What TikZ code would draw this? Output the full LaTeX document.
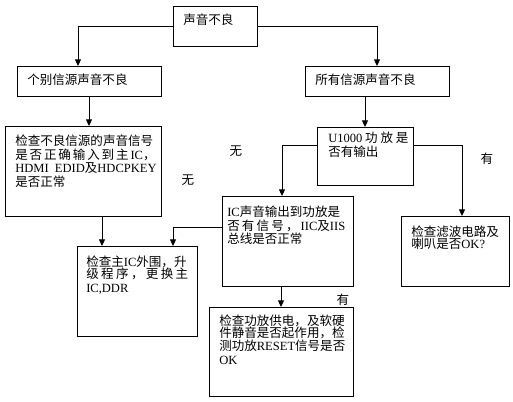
\documentclass[tikz,border=0pt]{standalone}
\usepackage{fontspec}
\setmainfont{Liberation Serif}
\newfontfamily\cjk{Noto Sans CJK SC}
\usetikzlibrary{arrows.meta,calc}
\newcommand\en[1]{{\rmfamily #1}}
\newcommand\spreadline[2]{\makebox[#1][s]{#2}}
\tikzset{
  box/.style={draw, line width=0.75pt, anchor=north west, inner sep=0pt, outer sep=0pt},
  txt/.style={anchor=north west, inner sep=0pt, align=left, font=\fontsize{9.4pt}{10.2pt}\selectfont\cjk},
  lbl/.style={inner sep=0pt, font=\fontsize{9.4pt}{10.2pt}\selectfont\cjk},
  arr/.style={line width=0.75pt, -{Triangle[length=5pt,width=4.5pt]}}
}
\begin{document}
\begin{tikzpicture}[x=0.75pt,y=0.75pt,yscale=-1,xscale=1]
\useasboundingbox (0,0) rectangle (513,401);

%Shape: Rectangle [top]
\node[box, minimum width=63pt, minimum height=30pt] (top) at (173,6) {};
%Shape: Rectangle [single source]
\node[box, minimum width=108pt, minimum height=22.5pt] (single) at (17,66) {};
%Shape: Rectangle [all sources]
\node[box, minimum width=108pt, minimum height=22.5pt] (all) at (305,66) {};
%Shape: Rectangle [check source]
\node[box, minimum width=117pt, minimum height=67.5pt] (chksrc) at (5,126) {};
%Shape: Rectangle [U1000]
\node[box, minimum width=72pt, minimum height=43.5pt] (amp) at (317,127) {};
%Shape: Rectangle [IC output]
\node[box, minimum width=98.25pt, minimum height=67.5pt] (icout) at (222,196) {};
%Shape: Rectangle [filter]
\node[box, minimum width=81pt, minimum height=52.5pt] (filter) at (401,216) {};
%Shape: Rectangle [main IC]
\node[box, minimum width=90pt, minimum height=67.5pt] (mainic) at (77,246) {};
%Shape: Rectangle [power]
\node[box, minimum width=108pt, minimum height=66.75pt] (power) at (209,307) {};

% Text Node
\node[txt] (top-t) at ($(top.north west)+(10,7.6)$) {声音不良};
% Text Node
\node[txt] (single-t) at ($(single.north west)+(10,7.6)$) {个别信源声音不良};
% Text Node
\node[txt] (all-t) at ($(all.north west)+(10,7.6)$) {所有信源声音不良};
% Text Node
\node[txt] (chksrc-t) at ($(chksrc.north west)+(10,8.6)$) {检查不良信源的声音信号\\
  \spreadline{103.5pt}{是 否 正 确 输 入 到 主 \en{IC}，}\\
  \en{HDMI\ \ EDID}及\en{HDCPKEY}\\
  是否正常};
% Text Node
\node[txt] (amp-t) at ($(amp.north west)+(11,4.6)$) {\en{U1000} 功 放 是\\否有输出};
% Text Node
\node[txt] (icout-t) at ($(icout.north west)+(5,9.6)$) {\en{IC}声音输出到功放是\\
  \spreadline{88.5pt}{否 有 信 号 ， \en{IIC}及\en{IIS}}\\
  总线是否正常};
% Text Node
\node[txt] (filter-t) at ($(filter.north west)+(10,9.6)$) {检查滤波电路及\\[-1.5pt]喇叭是否\en{OK?}};
% Text Node
\node[txt] (mainic-t) at ($(mainic.north west)+(9,9.6)$) {检查主\en{IC}外围，升\\[-1pt]
  \spreadline{76.5pt}{级 程 序 ， 更 换 主}\\
  \en{IC,DDR}};
% Text Node
\node[txt] (power-t) at ($(power.north west)+(10,7.6)$) {检查功放供电，及软硬\\[-1pt]
  件静音是否起作用，检\\[-0.5pt]
  测功放\en{RESET}信号是否\\
  \en{OK}};

% Text Node
\node[lbl] (no1) at (236,151) {无};
% Text Node
\node[lbl] (no2) at (188,180) {无};
% Text Node
\node[lbl] (yes1) at (487,159) {有};
% Text Node
\node[lbl] (yes2) at (343,300) {有};

%Straight Lines
\draw[arr] (top.west) -| ($(single.north west)+(61,0)$);
\draw[arr] (top.east) -| (all.north);
\draw[arr] (single.south) -- (single.south |- chksrc.north);
\draw[arr] (all.south -| amp.north) -- (amp.north);
\coordinate (mainic-in1) at ($(mainic.north west)+(25,0)$);
\coordinate (mainic-in2) at ($(mainic.north west)+(96,0)$);
\draw[arr] (chksrc.south -| mainic-in1) -- (mainic-in1);
\draw[arr] ($(amp.north west)+(0,18)$) -| ($(icout.north west)+(60,0)$);
\draw[arr] ($(amp.north east)+(0,18)$) -| ($(filter.north west)+(61,0)$);
\draw[arr] ($(icout.north west)+(0,31)$) -| (mainic-in2);
\draw[arr] (icout.south -| power.north) -- (power.north);

\end{tikzpicture}
\end{document}
